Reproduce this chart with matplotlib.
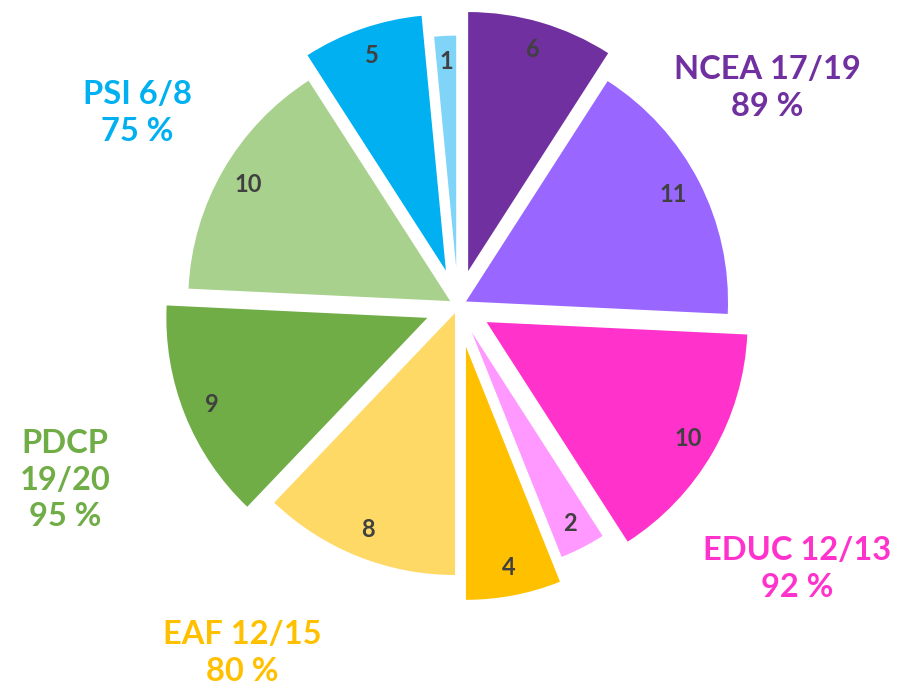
import numpy as np
import matplotlib.pyplot as plt

# Données du graphique (sens horaire depuis le haut)
values = [6, 11, 10, 2, 4, 8, 9, 10, 5, 1]
slice_colors = ['#7030A0', '#9966FF', '#FF33CC', '#FF99FF', '#FFC000',
                '#FFD966', '#70AD47', '#A9D18E', '#00B0F0', '#80D4F8']

groups = ['NCEA 17/19\n89 %', 'EDUC 12/13\n92 %', 'EAF 12/15\n80 %',
          'PDCP\n19/20\n95 %', 'PSI 6/8\n75 %']
group_colors = ['#7030A0', '#FF33CC', '#FFC000', '#70AD47', '#00B0F0']

# Mise en forme (pixels)
W, H = 898, 691
explode_px = [36, 9, 33, 30, 42, 8, 33, 9, 37, 38]
radius_px = [259, 262, 261, 242, 253, 262, 261, 262, 256, 232]
group_pos = [(767, 88), (797, 569), (242, 653), (65, 480), (137, 113)]

plt.rcParams['font.family'] = ['Lato', 'DejaVu Sans']

fig = plt.figure(figsize=(W / 100, H / 100), dpi=100)
ax = fig.add_axes([0, 0, 1, 1])

# explode de ax.pie est en unités de données
wedges, _ = ax.pie(values, explode=explode_px, radius=262,
                   center=(458, H - 305.6), startangle=90, counterclock=False,
                   colors=slice_colors, wedgeprops=dict(linewidth=0))

for w, r, v in zip(wedges, radius_px, values):
    w.set_radius(r)
    mid = np.deg2rad((w.theta1 + w.theta2) / 2)
    cx, cy = w.center
    ax.text(cx + 0.89 * r * np.cos(mid), cy + 0.89 * r * np.sin(mid), str(v),
            ha='center', va='center', fontsize=17, fontweight='bold', color='#404040')

for txt, col, (x, y) in zip(groups, group_colors, group_pos):
    ax.text(x, H - y, txt, ha='center', va='center', multialignment='center',
            fontsize=23.5, fontweight='bold', color=col, linespacing=1.3)

ax.set_xlim(0, W)
ax.set_ylim(0, H)
ax.set_aspect('equal')
ax.axis('off')

plt.savefig('out.png', dpi=100)
